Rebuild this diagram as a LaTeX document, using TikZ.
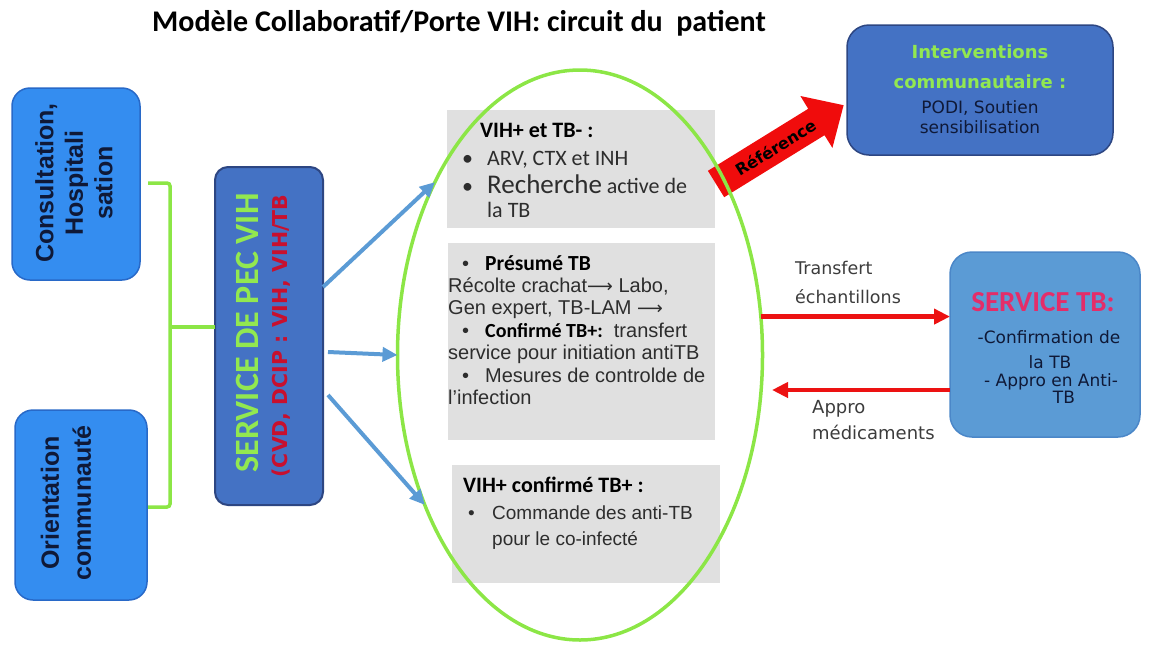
\documentclass[tikz,border=0pt]{standalone}
\usepackage{fontspec}
\setmainfont{Liberation Sans}
\newfontfamily\calib{Carlito}
\newfontfamily\dejav{DejaVu Sans}
\usetikzlibrary{arrows.meta,shapes.geometric}
\newcommand\fsz[2]{\fontsize{#1}{#2}\selectfont}
\definecolor{lgreen}{RGB}{140,230,70}
\definecolor{tgreen}{RGB}{146,232,80}
\definecolor{lbfill}{RGB}{52,141,240}
\definecolor{lbord}{RGB}{40,105,200}
\definecolor{dbfill}{RGB}{68,114,196}
\definecolor{dbord}{RGB}{45,70,130}
\definecolor{tbfill}{RGB}{91,155,213}
\definecolor{tbord}{RGB}{75,135,200}
\definecolor{gfill}{RGB}{224,224,224}
\definecolor{barr}{RGB}{91,155,213}
\definecolor{rarr}{RGB}{236,18,18}
\definecolor{refred}{RGB}{240,12,12}
\definecolor{tred}{RGB}{200,16,46}
\definecolor{tpink}{RGB}{228,45,105}
\definecolor{navy}{RGB}{15,25,55}
\definecolor{tgray}{RGB}{45,45,45}
\definecolor{lgray}{RGB}{60,60,60}
\begin{document}
\begin{tikzpicture}[x=1pt,y=-1pt,
  lbox/.style={draw=lbord, fill=lbfill, line width=1.5pt, rounded corners=18pt, inner sep=0pt, outer sep=0pt},
  gbox/.style={fill=gfill, draw=none, inner sep=0pt, outer sep=0pt},
  txt/.style={inner sep=0pt, anchor=base west},
  ctxt/.style={inner sep=0pt, anchor=base},
  barrow/.style={draw=barr, line width=4pt, -{Triangle[length=15pt,width=14pt]}},
  rarrow/.style={draw=rarr, line width=4.5pt, -{Triangle[length=16pt,width=15pt]}},
  grn/.style={draw=lgreen, line width=3.5pt}]
\useasboundingbox (0,0) rectangle (1150,646);

% title
\node[ctxt, font=\calib\bfseries\fsz{30}{36}] (title) at (459,31.5) {Modèle Collaboratif/Porte VIH: circuit du\ \ patient};

% left boxes
\node[lbox, minimum width=128pt, minimum height=192pt] (cons) at (76,184) {};
\node[lbox, minimum width=132pt, minimum height=190pt] (orient) at (81,505) {};
\node[rotate=90, align=center, inner sep=0pt, text=navy, font=\bfseries\fsz{25}{29.5}] (consT) at (74,183) {Consultation,\\Hospitali\\sation};
\node[rotate=90, align=center, inner sep=0pt, text=navy, font=\bfseries\fsz{25}{32}] (orientT) at (66,503) {Orientation\\communauté};

% service PEC VIH
\node[draw=dbord, fill=dbfill, line width=2pt, rounded corners=13pt, minimum width=108pt, minimum height=338pt, inner sep=0pt, outer sep=0pt] (svc) at (269,336) {};
\node[rotate=90, inner sep=0pt, text=tgreen, font=\calib\bfseries\fsz{34}{40}] (svcT1) at (247,333) {SERVICE DE PEC VIH};
\node[rotate=90, inner sep=0pt, text=tred, font=\dejav\bfseries\fsz{20.5}{24}] (svcT2) at (281,336) {(CVD, DCIP : VIH, VIH/TB};

% bracket
\coordinate (bt) at (148,183);
\coordinate (bb) at (148,507);
\coordinate (bm) at (170,327);
\draw[grn, rounded corners=3pt] (bt) -| (bm) |- (bb);
\draw[grn] (bm) -- (bm -| svc.west);

% gray boxes
\node[gbox, minimum width=268pt, minimum height=118pt] (g1) at (581,169) {};
\node[gbox, minimum width=267pt, minimum height=197pt] (g2) at (581.5,341.5) {};
\node[gbox, minimum width=268pt, minimum height=118pt] (g3) at (586,524) {};

% reference arrow
\fill[refred] (707.9,170.8) -- (808.2,108.8) -- (800.4,96.0) -- (843.6,105.2) -- (832.4,147.9) -- (824.5,135.2) -- (724.2,197.2) -- cycle;
\node[rotate=31.7, inner sep=0pt, font=\dejav\bfseries\fsz{16}{18}, text=black] (ref) at (775.5,147.5) {Référence};

% ellipse
\node[ellipse, grn, minimum width=365pt, minimum height=570pt, inner sep=0pt, outer sep=0pt] (circ) at (580,355) {};

% gray box 1 text
\node[txt, font=\calib\bfseries\fsz{22}{26}] (t11) at (480,137) {VIH+ et TB- :};
\node[txt, font=\calib\fsz{22}{26}, text=tgray] (t12) at (462,165) {\makebox[25pt][l]{•}ARV, CTX et INH};
\node[txt, font=\calib\fsz{22}{26}, text=tgray] (t13) at (462,193) {\makebox[25pt][l]{•}{\fsz{27}{30}Recherche} active de};
\node[txt, font=\calib\fsz{22}{26}, text=tgray] (t14) at (487,217) {la TB};

% gray box 2 text
\node[txt, font=\fsz{20}{24}, text=tgray] (t21) at (462,270) {\makebox[23pt][l]{•}{\calib\bfseries\fsz{21.5}{24}\color{black}Présumé TB}};
\node[txt, font=\fsz{20}{24}, text=tgray] (t22) at (448,292) {Récolte crachat{\dejav\fsz{18}{20}⟶} Labo,};
\node[txt, font=\fsz{20}{24}, text=tgray] (t23) at (448,314) {Gen expert, TB-LAM {\dejav\fsz{18}{20}⟶}};
\node[txt, font=\fsz{20}{24}, text=tgray] (t24) at (462,337) {\makebox[23pt][l]{•}{\calib\bfseries\fsz{20}{24}\color{black}Confirmé TB+:}\ \ transfert};
\node[txt, font=\fsz{20}{24}, text=tgray] (t25) at (448,359) {service pour initiation antiTB};
\node[txt, font=\fsz{20}{24}, text=tgray] (t26) at (462,382) {\makebox[23pt][l]{•}Mesures de controlde de};
\node[txt, font=\fsz{20}{24}, text=tgray] (t27) at (448,404) {l’infection};

% gray box 3 text
\node[txt, font=\calib\bfseries\fsz{22}{26}] (t31) at (463,492) {VIH+ confirmé TB+ :};
\node[txt, font=\fsz{19}{24}, text=tgray] (t32) at (468,519) {\makebox[24pt][l]{•}Commande des anti-TB};
\node[txt, font=\fsz{19}{24}, text=tgray] (t33) at (492,545) {pour le co-infecté};

% blue arrows
\draw[barrow] ([yshift=49pt]svc.east) -- (circ.130.5);
\draw[barrow] ([xshift=5pt,yshift=-16pt]svc.east) -- (circ.west);
\draw[barrow] ([xshift=5pt,yshift=-59pt]svc.east) -- (circ.224);

% interventions box
\node[draw=dbord, fill=dbfill, line width=1.5pt, rounded corners=22pt, minimum width=266pt, minimum height=130pt, inner sep=0pt, outer sep=0pt] (intv) at (980,90) {};
\node[ctxt, text=tgreen, font=\dejav\bfseries\fsz{18}{22}] (i1) at (980,58.5) {Interventions};
\node[ctxt, text=tgreen, font=\dejav\bfseries\fsz{18}{22}] (i2) at (980,88.5) {communautaire :};
\node[ctxt, text=navy, font=\dejav\fsz{17}{20}] (i3) at (980,113) {PODI, Soutien};
\node[ctxt, text=navy, font=\dejav\fsz{17}{20}] (i4) at (980,133) {sensibilisation};

% service TB box
\node[draw=tbord, fill=tbfill, line width=1.5pt, rounded corners=22pt, minimum width=190pt, minimum height=185pt, inner sep=0pt, outer sep=0pt] (tbs) at (1045,344.5) {};
\node[ctxt, text=tpink, font=\calib\bfseries\fsz{29}{32}] (s1) at (1043,311) {SERVICE TB:};
\node[ctxt, text=navy, font=\dejav\fsz{17}{20}] (s2) at (1049,343) {-Confirmation de};
\node[ctxt, text=navy, font=\dejav\fsz{17}{20}] (s3) at (1050,368) {la TB};
\node[ctxt, text=navy, font=\dejav\fsz{17}{20}] (s4) at (1051,386) {- Appro en Anti-};
\node[ctxt, text=navy, font=\dejav\fsz{17}{20}] (s5) at (1064,403) {TB};

% red arrows
\draw[rarrow] (circ.12) -- (circ.12 -| tbs.west);
\coordinate (appro) at (772,390);
\draw[rarrow] ([yshift=-45.5pt]tbs.west) -- (appro);
\node[txt, text=lgray, font=\dejav\fsz{17.5}{20}] (l1) at (795,274) {Transfert};
\node[txt, text=lgray, font=\dejav\fsz{17.5}{20}] (l2) at (795,303) {échantillons};
\node[txt, text=lgray, font=\dejav\fsz{18}{20}] (l3) at (812,413) {Appro};
\node[txt, text=lgray, font=\dejav\fsz{18}{20}] (l4) at (812,439) {médicaments};
\end{tikzpicture}
\end{document}
